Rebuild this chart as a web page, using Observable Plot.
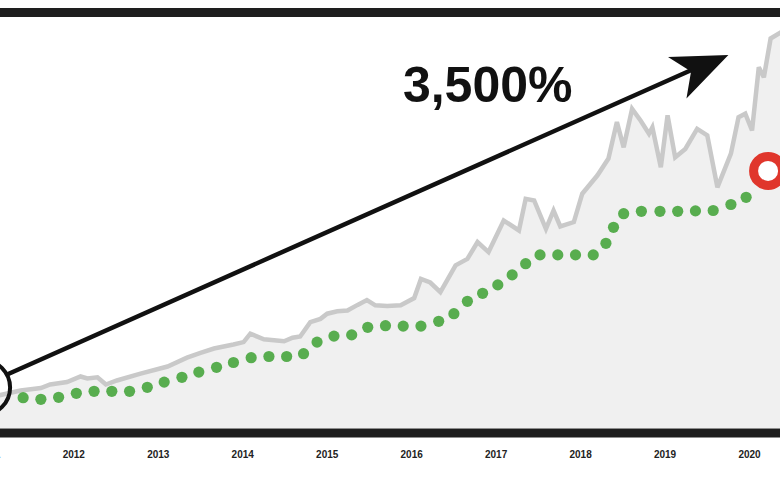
<!DOCTYPE html>
<html>
<head>
<meta charset="utf-8">
<script src="https://cdn.jsdelivr.net/npm/d3@7"></script>
<script src="https://cdn.jsdelivr.net/npm/@observablehq/plot@0.6"></script>
<style>
  html, body { margin: 0; padding: 0; background: #ffffff; }
  #chart { width: 780px; height: 478px; overflow: hidden; }
</style>
</head>
<body>
<div id="chart"></div>
<script>
// ---- data (x in decimal years, y in an arbitrary index) ----
const grayYear = [2011.01, 2011.37, 2011.61, 2011.72, 2011.92, 2012.08, 2012.16, 2012.28, 2012.38, 2012.51,
  2012.79, 2013.11, 2013.34, 2013.5, 2013.66, 2013.89, 2014.01, 2014.09, 2014.25, 2014.49,
  2014.59, 2014.68, 2014.8, 2014.92, 2015.0, 2015.12, 2015.24, 2015.36, 2015.47, 2015.57,
  2015.71, 2015.87, 2016.03, 2016.11, 2016.22, 2016.34, 2016.52, 2016.66, 2016.78, 2016.91,
  2017.09, 2017.27, 2017.35, 2017.45, 2017.59, 2017.68, 2017.76, 2017.92, 2018.02, 2018.2,
  2018.33, 2018.43, 2018.51, 2018.61, 2018.71, 2018.81, 2018.85, 2018.95, 2019.03, 2019.12,
  2019.24, 2019.38, 2019.5, 2019.62, 2019.78, 2019.87, 2019.95, 2020.03, 2020.11, 2020.17,
  2020.25, 2020.37, 2020.49];
const grayValue = [7.8, 9.5, 10.1, 11.0, 11.6, 13.0, 12.5, 12.8, 11.0, 12.0,
  13.7, 15.5, 17.7, 18.9, 20.0, 21.0, 21.6, 23.7, 22.3, 21.8,
  22.7, 23.0, 26.6, 27.4, 28.7, 29.3, 29.5, 30.9, 32.1, 30.8,
  30.6, 30.8, 32.6, 37.4, 36.5, 34.1, 40.8, 42.4, 46.6, 44.1,
  52.0, 49.5, 57.4, 57.0, 49.9, 54.5, 50.5, 51.6, 58.7, 63.3,
  67.5, 76.6, 70.3, 79.9, 77.0, 73.7, 75.3, 65.3, 78.3, 67.8,
  69.9, 74.9, 73.3, 60.3, 68.7, 77.8, 78.7, 74.5, 90.3, 87.8,
  97.5, 99.0, 99.5];

const greenYear = [2011.40, 2011.61, 2011.82, 2012.03, 2012.24, 2012.45, 2012.66, 2012.87, 2013.07, 2013.28,
  2013.48, 2013.69, 2013.89, 2014.10, 2014.31, 2014.52, 2014.72, 2014.88, 2015.08, 2015.29,
  2015.48, 2015.69, 2015.90, 2016.11, 2016.32, 2016.50, 2016.66, 2016.84, 2017.02, 2017.19,
  2017.35, 2017.52, 2017.73, 2017.94, 2018.15, 2018.30, 2018.39, 2018.51, 2018.72, 2018.94,
  2019.15, 2019.36, 2019.57, 2019.78, 2019.96];
const greenValue = [7.7, 7.3, 7.8, 8.8, 9.3, 9.3, 9.3, 10.3, 11.6, 12.8,
  14.1, 15.3, 16.5, 17.7, 18.0, 18.0, 18.7, 21.6, 23.1, 23.4,
  25.3, 25.7, 25.6, 25.6, 26.8, 28.7, 31.8, 33.8, 35.9, 38.4,
  41.2, 43.4, 43.4, 43.4, 43.4, 46.3, 50.3, 53.7, 54.3, 54.3,
  54.3, 54.4, 54.5, 56.0, 57.8];

const yearTicks = [2011, 2012, 2013, 2014, 2015, 2016, 2017, 2018, 2019, 2020];

// annotations
const startCircle = [{year: 2010.92, value: 10.25}];
const endCircle = [{year: 2020.22, value: 64.4}];
const arrowYear = [2011.23, 2019.30];
const arrowValue = [13.7, 89.5];
const arrowTip = [{year: 2019.75, value: 93.4}];
const labelText = ["3,500%"];
const labelPos = [{year: 2016.9, value: 85.75}];
const barLevels = [104, -1.15];

// ---- tables built from the arrays ----
const gray = grayYear.map((d, i) => ({year: d, value: grayValue[i]}));
const green = greenYear.map((d, i) => ({year: d, value: greenValue[i]}));
const arrow = arrowYear.map((d, i) => ({year: d, value: arrowValue[i]}));
const label = labelText.map((t, i) => ({...labelPos[i], text: t}));

// notched arrow head, tip at the origin, pointing up
const arrowHead = {
  draw(context, size) {
    const s = Math.sqrt(size / Math.PI);
    context.moveTo(0, 0);
    context.lineTo(0.405 * s, s);
    context.lineTo(0, 0.73 * s);
    context.lineTo(-0.405 * s, s);
    context.closePath();
  }
};

const chart = Plot.plot({
  width: 780,
  height: 478,
  marginTop: 0,
  marginRight: 0,
  marginLeft: 0,
  marginBottom: 50,
  style: {
    fontFamily: "'Liberation Sans', Arial, Helvetica, sans-serif",
    fontSize: "10px",
    fontWeight: "bold",
    color: "#222",
    background: "#ffffff",
    overflow: "hidden"
  },
  x: {
    domain: [2011.132, 2020.367],
    ticks: yearTicks,
    tickFormat: d => String(d),
    tickSize: 0,
    tickPadding: 22,
    label: null
  },
  y: {domain: [0, 107], axis: null},
  marks: [
    Plot.areaY(gray, {x: "year", y: "value", fill: "#f0f0f0"}),
    Plot.lineY(gray, {x: "year", y: "value", stroke: "#c9c9c9", strokeWidth: 4.5, strokeLinejoin: "miter", strokeMiterlimit: 3}),
    Plot.dot(green, {x: "year", y: "value", r: 5.6, fill: "#58ad4f", stroke: "none"}),
    Plot.ruleY(barLevels, {stroke: "#1e1e1e", strokeWidth: 9}),
    Plot.dot(startCircle, {x: "year", y: "value", r: 27.5, fill: "none", stroke: "#111", strokeWidth: 4}),
    Plot.line(arrow, {x: "year", y: "value", stroke: "#111", strokeWidth: 4.5}),
    Plot.dot(arrowTip, {x: "year", y: "value", r: 56, symbol: arrowHead, fill: "#111", stroke: "none", rotate: 66}),
    Plot.dot(endCircle, {x: "year", y: "value", r: 14.5, fill: "#ffffff", stroke: "#e0362c", strokeWidth: 9}),
    Plot.text(label, {x: "year", y: "value", text: "text", fontSize: 50, fontWeight: "bold", fill: "#111", textAnchor: "middle", lineAnchor: "middle"})
  ]
});
document.getElementById("chart").appendChild(chart);
</script>
</body>
</html>
